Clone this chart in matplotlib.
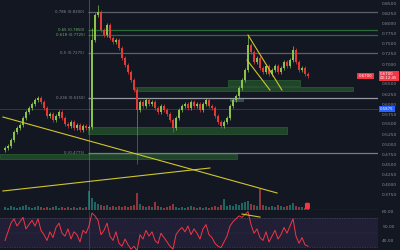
import matplotlib
matplotlib.use("Agg")
import matplotlib.pyplot as plt
from matplotlib.patches import Rectangle

# ---------------- data ----------------
closes = [0.490, 0.495, 0.510, 0.530, 0.540, 0.5475, 0.565, 0.580, 0.590, 0.600, 0.610,
          0.615, 0.605, 0.590, 0.570, 0.575, 0.560, 0.570, 0.580, 0.565, 0.550, 0.545,
          0.555, 0.540, 0.5475, 0.535, 0.545, 0.540, 0.5425, 0.760, 0.8225, 0.830, 0.785,
          0.7725, 0.7975, 0.765, 0.755, 0.760, 0.740, 0.715, 0.6975, 0.680, 0.660, 0.635,
          0.585, 0.605, 0.595, 0.610, 0.600, 0.605, 0.590, 0.580, 0.595, 0.585, 0.575,
          0.560, 0.540, 0.565, 0.585, 0.595, 0.600, 0.590, 0.605, 0.595, 0.600, 0.585,
          0.600, 0.610, 0.595, 0.590, 0.570, 0.555, 0.545, 0.555, 0.565, 0.595, 0.610,
          0.620, 0.640, 0.660, 0.685, 0.7475, 0.730, 0.705, 0.715, 0.690, 0.680, 0.695,
          0.675, 0.685, 0.695, 0.680, 0.690, 0.705, 0.695, 0.710, 0.735, 0.705, 0.685,
          0.690, 0.675, 0.670]
first_open = 0.485
high_override = {31: 0.8475, 81: 0.7725, 96: 0.745, 29: 0.790}
low_override = {44: 0.5225, 56: 0.530}

volumes = [3, 2, 4, 3, 2, 3, 4, 5, 3, 2, 3, 4, 3, 2, 3, 2, 3, 4, 2, 3, 2, 3, 2, 3, 2, 3, 2, 3,
           19, 12, 8, 6, 5, 4, 5, 3, 4, 3, 4, 3, 4, 3, 4, 5, 17, 6, 4, 3, 4, 3, 8, 4, 3, 2,
           3, 4, 6, 3, 2, 3, 2, 3, 4, 3, 2, 3, 2, 3, 2, 3, 4, 3, 5, 11, 4, 5, 4, 6, 5, 7, 8,
           9, 6, 5, 4, 21, 5, 4, 3, 4, 3, 5, 4, 3, 4, 5, 7, 4, 3, 3, 2, 2]

rsi = [40, 46, 52, 55, 50, 53, 56, 48, 51, 54, 50,
       55, 47, 44, 40, 46, 42, 49, 52, 45, 43, 48, 41, 46, 44, 39, 47, 45,
       50, 59, 57, 54, 44, 47, 52, 43, 40, 46, 38, 36, 41, 37, 34, 36,
       33, 44, 41, 47, 43, 46, 40, 38, 45, 42, 39, 36, 34, 44, 47, 49, 46, 50, 44, 48,
       45, 41, 48, 51, 44, 42, 38, 36, 35, 39, 43, 50,
       53, 55, 57, 56, 58, 60, 51, 45, 48, 42, 40, 46, 39, 43, 47, 41, 44, 49, 45, 50,
       55, 43, 38, 42, 37, 36]

price_ticks = [0.850, 0.825, 0.800, 0.775, 0.750, 0.725, 0.700, 0.650, 0.625, 0.600,
               0.575, 0.550, 0.525, 0.500, 0.475, 0.450, 0.425, 0.400, 0.375]
rsi_ticks = [60, 50, 40]

fib_ratios = ["0.786", "0.65", "0.618", "0.5", "0.236", "0"]
fib_prices = [0.830, 0.785, 0.7725, 0.7275, 0.615, 0.4775]

last_price = 0.670
blue_price = 0.5875

# zones: (x0, x1, y0, y1)
zones = [(43.3, 116.0, 0.6325, 0.6425),
         (27.7, 94.0, 0.525, 0.5425),
         (-1.7, 77.3, 0.4625, 0.4750),
         (74.3, 98.3, 0.645, 0.660)]
small_zone = (75.0, 79.3, 0.6075, 0.615)

trend_lines = [((-0.7, 90.7), (0.5675, 0.3775)),
               ((-0.7, 68.3), (0.3825, 0.440)),
               ((81.0, 92.3), (0.7725, 0.635)),
               ((80.7, 88.3), (0.710, 0.635))]
rsi_line = ((79.0, 85.0), (58.3, 56.2))

# ---------------- style ----------------
BG = '#131722'
UP = '#8bc34a'
DN = '#e53935'
YEL = '#cfc52c'
TXT = '#868993'

fig = plt.figure(figsize=(4, 2.5), dpi=100, facecolor=BG)
W, H = 400, 250
axw = 378 / W
ax = fig.add_axes([0, 40 / H, axw, 210 / H], facecolor=BG)
vax = fig.add_axes([0, 40 / H, axw, 30 / H], facecolor='none')
rax = fig.add_axes([0, 0, axw, 39 / H], facecolor=BG)

n = len(closes)
xs = list(range(n))
opens = [first_open] + closes[:-1]
highs, lows, cols = [], [], []
for i in range(n):
    o, c = opens[i], closes[i]
    highs.append(high_override.get(i, max(o, c) + 0.006))
    lows.append(low_override.get(i, min(o, c) - 0.006))
    cols.append(UP if c >= o else DN)

# zones
for x0, x1, y0, y1 in zones:
    ax.add_patch(Rectangle((x0, y0), x1 - x0, y1 - y0, facecolor='#2e7d32', alpha=0.45,
                           edgecolor='#43a047', lw=0.5, zorder=1))
x0, x1, y0, y1 = small_zone
ax.add_patch(Rectangle((x0, y0), x1 - x0, y1 - y0, facecolor='#4db6ac', alpha=0.35,
                       edgecolor='#80cbc4', lw=0.4, zorder=1))

# fib lines
fib_cols = ['#5d606b', '#2e6b3a', '#2e6b3a', '#5d606b', '#9598a1', '#787b86']
for r, p, fc in zip(fib_ratios, fib_prices, fib_cols):
    ax.hlines(p, 27.7, 124.3, color=fc, lw=0.9, zorder=2)
    tc = '#6fae6f' if fc == '#2e6b3a' else TXT
    ax.text(26.5, p, f"{r} ({p:.4f})", fontsize=2.8, color=tc, ha='right', va='center')

# blue current line
ax.axhline(blue_price, color='#2962ff', alpha=0.45, lw=0.7, zorder=2)

# vertical lines
ax.axvline(28, color='#4caf50', alpha=0.55, lw=0.6, zorder=2)
ax.vlines(44, 0.450, 0.640, color='#e53935', alpha=0.8, lw=0.6, zorder=2)

# candles
ax.vlines(xs, lows, highs, colors=cols, lw=0.5, zorder=3)
ax.bar(xs, [max(abs(c - o), 0.002) for o, c in zip(opens, closes)],
       bottom=[min(o, c) for o, c in zip(opens, closes)], width=0.65, color=cols, zorder=4)

# trend lines
for (lx, ly) in trend_lines:
    ax.plot(lx, ly, color=YEL, lw=0.8, zorder=5)

ax.set_xlim(-5 / 3, 373 / 3)
ax.set_ylim(0.335, 0.86)
ax.yaxis.tick_right()
ax.set_yticks(price_ticks)
ax.set_yticklabels([f"{v:.4f}" for v in price_ticks])
ax.tick_params(axis='y', length=0, pad=3, labelsize=3.2, labelcolor=TXT)
ax.set_xticks([])
for s in ax.spines.values():
    s.set_visible(False)

# price labels on axis
ax.text(1.005, (last_price - 0.335) / (0.86 - 0.335), f"{last_price:.4f}\n00:12:45",
        transform=ax.transAxes, fontsize=2.8, color='white', va='center', ha='left',
        linespacing=1.0,
        bbox=dict(boxstyle='square,pad=0.35', fc='#f23645', ec='none'), clip_on=False)
ax.text(0.985, (last_price - 0.335) / (0.86 - 0.335), f"{last_price:.4f}",
        transform=ax.transAxes, fontsize=2.8, color='white', va='center', ha='right',
        bbox=dict(boxstyle='square,pad=0.35', fc='#f23645', ec='none'))
ax.text(1.005, (blue_price - 0.335) / (0.86 - 0.335), f"{blue_price:.4f}",
        transform=ax.transAxes, fontsize=2.8, color='white', va='center', ha='left',
        bbox=dict(boxstyle='square,pad=0.35', fc='#2962ff', ec='none'), clip_on=False)

# volume
vcols = ['#26a69a' if c == UP else '#ef5350' for c in cols]
vax.bar(xs, volumes, width=0.7, color=vcols, alpha=0.55)
vax.axhline(0.3, color='#5d606b', lw=0.8)
vax.set_xlim(ax.get_xlim())
vax.set_ylim(0, 30)
vax.axis('off')
vax.text(0.81, 0.1, "  ", transform=vax.transAxes, fontsize=3,
         bbox=dict(boxstyle='round,pad=0.3', fc='#f23645', ec='none'))

# RSI
rax.axhspan(35.5, 55.5, color='#7e57c2', alpha=0.13, lw=0)
for lv in (35.5, 55.5):
    rax.axhline(lv, color='#787b86', lw=0.4, ls=(0, (1, 2)))
rax.axhline(45.5, color='#787b86', lw=0.3, ls=(0, (1, 3)), alpha=0.6)
rax.plot(xs, rsi, color='#f23645', lw=0.7)
rax.plot(rsi_line[0], rsi_line[1], color=YEL, lw=0.8)
rax.axvline(28, color='#4caf50', alpha=0.4, lw=0.5)
rax.set_xlim(ax.get_xlim())
rax.set_ylim(33.4, 60.4)
rax.yaxis.tick_right()
rax.set_yticks(rsi_ticks)
rax.set_yticklabels([f"{v:.2f}" for v in rsi_ticks])
rax.tick_params(axis='y', length=0, pad=3, labelsize=3.2, labelcolor=TXT)
rax.set_xticks([])
for s in rax.spines.values():
    s.set_visible(False)

fig.savefig("out.png", dpi=100, facecolor=BG)
